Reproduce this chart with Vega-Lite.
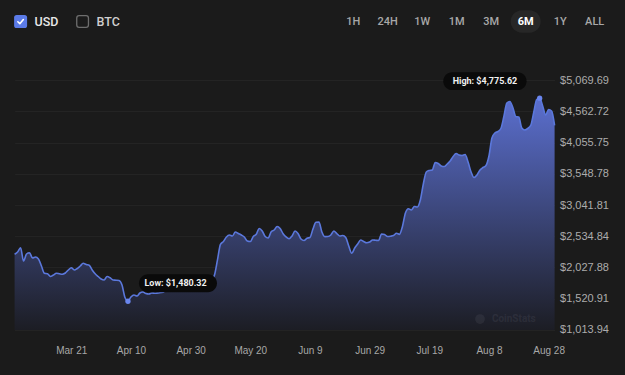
{
  "$schema": "https://vega.github.io/schema/vega-lite/v6.json",
  "usermeta": {"embedOptions": {"actions": false}},
  "background": "#1b1b1b",
  "padding": {"left": 10.6, "top": 0, "right": 1, "bottom": 0},
  "config": {"view": {"stroke": null}, "font": "Liberation Sans"},
  "bounds": "flush",
  "spacing": 80,
  "vconcat": [
    {
      "bounds": "flush",
      "spacing": 276.6,
      "hconcat": [
        {
          "width": 62,
          "height": 43,
          "data": {"values": [{"item": "USD", "checked": true}, {"item": "BTC", "checked": false}]},
          "encoding": {"x": {"field": "item", "type": "nominal", "sort": null, "scale": {"type": "point", "padding": 0, "domain": ["USD", "BTC"]}, "axis": null}},
          "layer": [
            {"transform": [{"filter": "datum.checked"}], "mark": {"type": "point", "shape": "M -1 -0.6 Q -1 -1 -0.6 -1 L 0.6 -1 Q 1 -1 1 -0.6 L 1 0.6 Q 1 1 0.6 1 L -0.6 1 Q -1 1 -1 0.6 Z", "size": 169, "filled": true, "fill": "#5b7be8", "strokeWidth": 0, "opacity": 1, "xOffset": 6}},
            {"transform": [{"filter": "!datum.checked"}], "mark": {"type": "point", "shape": "M -1 -0.6 Q -1 -1 -0.6 -1 L 0.6 -1 Q 1 -1 1 -0.6 L 1 0.6 Q 1 1 0.6 1 L -0.6 1 Q -1 1 -1 0.6 Z", "size": 137, "filled": false, "stroke": "#6e6e6e", "strokeWidth": 1.3, "opacity": 1, "xOffset": 6}},
            {"transform": [{"filter": "datum.checked"}], "mark": {"type": "point", "shape": "M -0.55 0.05 L -0.15 0.45 L 0.55 -0.4", "size": 100, "filled": false, "stroke": "#ffffff", "strokeWidth": 1.6, "strokeCap": "round", "strokeJoin": "round", "opacity": 1, "xOffset": 6}},
            {"mark": {"type": "text", "align": "left", "baseline": "middle", "dx": 20, "font": "Roboto", "fontSize": 12.5, "fontWeight": 500}, "encoding": {"text": {"field": "item"}, "color": {"condition": {"test": "datum.checked", "value": "#e8e8e8"}, "value": "#cfcfcf"}}}
          ]
        },
        {
          "width": 241.5,
          "height": 43,
          "data": {"values": [{"item": "1H"}, {"item": "24H"}, {"item": "1W"}, {"item": "1M"}, {"item": "3M"}, {"item": "6M"}, {"item": "1Y"}, {"item": "ALL"}]},
          "encoding": {"x": {"field": "item", "type": "nominal", "sort": null, "scale": {"type": "point", "padding": 0, "domain": ["1H", "24H", "1W", "1M", "3M", "6M", "1Y", "ALL"]}, "axis": null}},
          "layer": [
            {"transform": [{"filter": "datum.item === '6M'"}], "mark": {"type": "point", "shape": "M -0.253 -0.747 L 0.253 -0.747 A 0.747 0.747 0 0 1 0.253 0.747 L -0.253 0.747 A 0.747 0.747 0 0 1 -0.253 -0.747 Z", "size": 900, "filled": true, "fill": "#272727", "strokeWidth": 0, "opacity": 1}},
            {"transform": [{"filter": "datum.item !== '6M'"}], "mark": {"type": "text", "baseline": "middle", "font": "Roboto", "fontSize": 11, "fontWeight": 500, "color": "#a8a8a8"}, "encoding": {"text": {"field": "item"}}},
            {"transform": [{"filter": "datum.item === '6M'"}], "mark": {"type": "text", "baseline": "middle", "font": "Roboto", "fontSize": 11, "fontWeight": 700, "color": "#ffffff"}, "encoding": {"text": {"field": "item"}}}
          ]
        }
      ]
    },
    {
      "width": 540,
      "height": 250,
      "data": {"values": [
        {"date": "2025/03/02", "price": 2242}, {"date": "2025/03/03", "price": 2279}, {"date": "2025/03/04", "price": 2349}, {"date": "2025/03/05", "price": 2133},
        {"date": "2025/03/06", "price": 2247}, {"date": "2025/03/07", "price": 2268}, {"date": "2025/03/08", "price": 2182}, {"date": "2025/03/09", "price": 2198},
        {"date": "2025/03/10", "price": 2166}, {"date": "2025/03/11", "price": 2052}, {"date": "2025/03/12", "price": 1934}, {"date": "2025/03/13", "price": 1927},
        {"date": "2025/03/14", "price": 1882}, {"date": "2025/03/15", "price": 1906}, {"date": "2025/03/16", "price": 1934}, {"date": "2025/03/17", "price": 1926},
        {"date": "2025/03/18", "price": 1918}, {"date": "2025/03/19", "price": 1939}, {"date": "2025/03/20", "price": 1987}, {"date": "2025/03/21", "price": 2025},
        {"date": "2025/03/22", "price": 1987}, {"date": "2025/03/23", "price": 2012}, {"date": "2025/03/24", "price": 2052}, {"date": "2025/03/25", "price": 2096},
        {"date": "2025/03/26", "price": 2077}, {"date": "2025/03/27", "price": 2065}, {"date": "2025/03/28", "price": 1987}, {"date": "2025/03/29", "price": 1926},
        {"date": "2025/03/30", "price": 1882}, {"date": "2025/03/31", "price": 1841}, {"date": "2025/04/01", "price": 1825}, {"date": "2025/04/02", "price": 1882},
        {"date": "2025/04/03", "price": 1862}, {"date": "2025/04/04", "price": 1825}, {"date": "2025/04/05", "price": 1822}, {"date": "2025/04/06", "price": 1817},
        {"date": "2025/04/07", "price": 1744}, {"date": "2025/04/08", "price": 1541}, {"date": "2025/04/09", "price": 1480.32}, {"date": "2025/04/10", "price": 1549},
        {"date": "2025/04/11", "price": 1582}, {"date": "2025/04/12", "price": 1566}, {"date": "2025/04/13", "price": 1614}, {"date": "2025/04/14", "price": 1630},
        {"date": "2025/04/15", "price": 1606}, {"date": "2025/04/16", "price": 1598}, {"date": "2025/04/17", "price": 1614}, {"date": "2025/04/18", "price": 1609},
        {"date": "2025/04/19", "price": 1614}, {"date": "2025/04/20", "price": 1622}, {"date": "2025/04/21", "price": 1630}, {"date": "2025/04/22", "price": 1760},
        {"date": "2025/04/23", "price": 1793}, {"date": "2025/04/24", "price": 1776}, {"date": "2025/04/25", "price": 1793}, {"date": "2025/04/26", "price": 1790},
        {"date": "2025/04/27", "price": 1785}, {"date": "2025/04/28", "price": 1798}, {"date": "2025/04/29", "price": 1800}, {"date": "2025/04/30", "price": 1790},
        {"date": "2025/05/01", "price": 1833}, {"date": "2025/05/02", "price": 1841}, {"date": "2025/05/03", "price": 1825}, {"date": "2025/05/04", "price": 1809},
        {"date": "2025/05/05", "price": 1812}, {"date": "2025/05/06", "price": 1801}, {"date": "2025/05/07", "price": 1817}, {"date": "2025/05/08", "price": 1906},
        {"date": "2025/05/09", "price": 2150}, {"date": "2025/05/10", "price": 2404}, {"date": "2025/05/11", "price": 2450}, {"date": "2025/05/12", "price": 2523},
        {"date": "2025/05/13", "price": 2555}, {"date": "2025/05/14", "price": 2539}, {"date": "2025/05/15", "price": 2604}, {"date": "2025/05/16", "price": 2579},
        {"date": "2025/05/17", "price": 2555}, {"date": "2025/05/18", "price": 2523}, {"date": "2025/05/19", "price": 2458}, {"date": "2025/05/20", "price": 2450},
        {"date": "2025/05/21", "price": 2531}, {"date": "2025/05/22", "price": 2566}, {"date": "2025/05/23", "price": 2661}, {"date": "2025/05/24", "price": 2620},
        {"date": "2025/05/25", "price": 2531}, {"date": "2025/05/26", "price": 2506}, {"date": "2025/05/27", "price": 2609}, {"date": "2025/05/28", "price": 2636},
        {"date": "2025/05/29", "price": 2693}, {"date": "2025/05/30", "price": 2661}, {"date": "2025/05/31", "price": 2576}, {"date": "2025/06/01", "price": 2523},
        {"date": "2025/06/02", "price": 2495}, {"date": "2025/06/03", "price": 2539}, {"date": "2025/06/04", "price": 2620}, {"date": "2025/06/05", "price": 2579},
        {"date": "2025/06/06", "price": 2490}, {"date": "2025/06/07", "price": 2466}, {"date": "2025/06/08", "price": 2502}, {"date": "2025/06/09", "price": 2515},
        {"date": "2025/06/10", "price": 2652}, {"date": "2025/06/11", "price": 2761}, {"date": "2025/06/12", "price": 2766}, {"date": "2025/06/13", "price": 2604},
        {"date": "2025/06/14", "price": 2528}, {"date": "2025/06/15", "price": 2530}, {"date": "2025/06/16", "price": 2555}, {"date": "2025/06/17", "price": 2620},
        {"date": "2025/06/18", "price": 2579}, {"date": "2025/06/19", "price": 2539}, {"date": "2025/06/20", "price": 2547}, {"date": "2025/06/21", "price": 2515},
        {"date": "2025/06/22", "price": 2377}, {"date": "2025/06/23", "price": 2258}, {"date": "2025/06/24", "price": 2344}, {"date": "2025/06/25", "price": 2409},
        {"date": "2025/06/26", "price": 2474}, {"date": "2025/06/27", "price": 2450}, {"date": "2025/06/28", "price": 2430}, {"date": "2025/06/29", "price": 2442},
        {"date": "2025/06/30", "price": 2474}, {"date": "2025/07/01", "price": 2470}, {"date": "2025/07/02", "price": 2466}, {"date": "2025/07/03", "price": 2571},
        {"date": "2025/07/04", "price": 2563}, {"date": "2025/07/05", "price": 2531}, {"date": "2025/07/06", "price": 2536}, {"date": "2025/07/07", "price": 2547},
        {"date": "2025/07/08", "price": 2583}, {"date": "2025/07/09", "price": 2566}, {"date": "2025/07/10", "price": 2693}, {"date": "2025/07/11", "price": 2912},
        {"date": "2025/07/12", "price": 2980}, {"date": "2025/07/13", "price": 2961}, {"date": "2025/07/14", "price": 3017}, {"date": "2025/07/15", "price": 3010},
        {"date": "2025/07/16", "price": 3123}, {"date": "2025/07/17", "price": 3383}, {"date": "2025/07/18", "price": 3577}, {"date": "2025/07/19", "price": 3602},
        {"date": "2025/07/20", "price": 3610}, {"date": "2025/07/21", "price": 3731}, {"date": "2025/07/22", "price": 3715}, {"date": "2025/07/23", "price": 3675},
        {"date": "2025/07/24", "price": 3666}, {"date": "2025/07/25", "price": 3707}, {"date": "2025/07/26", "price": 3756}, {"date": "2025/07/27", "price": 3829},
        {"date": "2025/07/28", "price": 3877}, {"date": "2025/07/29", "price": 3853}, {"date": "2025/07/30", "price": 3845}, {"date": "2025/07/31", "price": 3861},
        {"date": "2025/08/01", "price": 3739}, {"date": "2025/08/02", "price": 3577}, {"date": "2025/08/03", "price": 3488}, {"date": "2025/08/04", "price": 3529},
        {"date": "2025/08/05", "price": 3610}, {"date": "2025/08/06", "price": 3650}, {"date": "2025/08/07", "price": 3683}, {"date": "2025/08/08", "price": 3837},
        {"date": "2025/08/09", "price": 4129}, {"date": "2025/08/10", "price": 4210}, {"date": "2025/08/11", "price": 4234}, {"date": "2025/08/12", "price": 4283},
        {"date": "2025/08/13", "price": 4478}, {"date": "2025/08/14", "price": 4697}, {"date": "2025/08/15", "price": 4721}, {"date": "2025/08/16", "price": 4624},
        {"date": "2025/08/17", "price": 4478}, {"date": "2025/08/18", "price": 4469}, {"date": "2025/08/19", "price": 4291}, {"date": "2025/08/20", "price": 4259},
        {"date": "2025/08/21", "price": 4283}, {"date": "2025/08/22", "price": 4332}, {"date": "2025/08/23", "price": 4542}, {"date": "2025/08/24", "price": 4753},
        {"date": "2025/08/25", "price": 4775.62}, {"date": "2025/08/26", "price": 4648}, {"date": "2025/08/27", "price": 4502}, {"date": "2025/08/28", "price": 4591},
        {"date": "2025/08/29", "price": 4567}, {"date": "2025/08/30", "price": 4332}
      ]},
      "layer": [
        {
          "mark": {"type": "area", "interpolate": "monotone", "opacity": 1, "fill": {"gradient": "linear", "x1": 0, "y1": 0, "x2": 0, "y2": 1, "stops": [{"offset": 0, "color": "#5b6fcf"}, {"offset": 1, "color": "#1c1d24"}]}},
          "encoding": {
            "x": {"field": "date", "type": "temporal",
              "scale": {"domain": [{"year": 2025, "month": 3, "date": 2}, {"year": 2025, "month": 8, "date": 30}]},
              "axis": {"values": [{"year": 2025, "month": 3, "date": 21}, {"year": 2025, "month": 4, "date": 10}, {"year": 2025, "month": 4, "date": 30}, {"year": 2025, "month": 5, "date": 20}, {"year": 2025, "month": 6, "date": 9}, {"year": 2025, "month": 6, "date": 29}, {"year": 2025, "month": 7, "date": 19}, {"year": 2025, "month": 8, "date": 8}, {"year": 2025, "month": 8, "date": 28}],
                "tickCount": 20, "format": "%b %-d", "labelColor": "#a8a8a8", "labelFontSize": 10, "labelPadding": 16, "ticks": false, "domain": false, "grid": false, "title": null, "labelOverlap": false, "labelFlush": false, "minExtent": 45}},
            "y": {"field": "price", "type": "quantitative",
              "scale": {"domain": [1013.94, 5069.69], "zero": false, "nice": false},
              "axis": {"orient": "right", "values": [1013.94, 1520.91, 2027.88, 2534.84, 3041.81, 3548.78, 4055.75, 4562.72, 5069.69],
                "tickCount": 20, "format": "$,.2f", "labelColor": "#acacac", "labelFontSize": 11, "labelPadding": 5, "ticks": false, "domain": false, "grid": true, "gridColor": "#242424", "gridWidth": 1, "title": null, "labelOverlap": false, "labelFlush": false, "minExtent": 70}},
            "y2": {"datum": 1013.94}
          }
        },
        {
          "mark": {"type": "line", "interpolate": "monotone", "color": "#5b78dc", "strokeWidth": 1.6},
          "encoding": {"x": {"field": "date", "type": "temporal"}, "y": {"field": "price", "type": "quantitative"}}
        },
        {
          "data": {"values": [{"wm": "CoinStats"}]},
          "mark": {"type": "circle", "size": 95, "color": "#9a9aa8", "opacity": 0.1},
          "encoding": {"x": {"datum": {"year": 2025, "month": 8, "date": 5}}, "y": {"datum": 1192}}
        },
        {
          "data": {"values": [{"wm": "CoinStats"}]},
          "mark": {"type": "text", "align": "left", "baseline": "middle", "font": "Roboto", "fontSize": 10, "fontWeight": "bold", "color": "#9a9aa8", "opacity": 0.1},
          "encoding": {"x": {"datum": {"year": 2025, "month": 8, "date": 9}}, "y": {"datum": 1192}, "text": {"field": "wm"}}
        },
        {
          "transform": [
            {"joinaggregate": [{"op": "min", "field": "price", "as": "lo"}, {"op": "max", "field": "price", "as": "hi"}]},
            {"filter": "datum.price === datum.lo || datum.price === datum.hi"}
          ],
          "mark": {"type": "circle", "size": 28, "color": "#6a86ee", "opacity": 1},
          "encoding": {"x": {"field": "date", "type": "temporal"}, "y": {"field": "price", "type": "quantitative"}}
        },
        {
          "transform": [
            {"joinaggregate": [{"op": "min", "field": "price", "as": "lo"}]},
            {"filter": "datum.price === datum.lo"},
            {"calculate": "'Low: $' + format(datum.price, ',.2f')", "as": "label"}
          ],
          "encoding": {"x": {"field": "date", "type": "temporal"}, "y": {"field": "price", "type": "quantitative"}},
          "layer": [
            {"mark": {"type": "rect", "xOffset": 11, "x2Offset": 89, "yOffset": -27, "y2Offset": -9, "cornerRadius": 9, "color": "#0a0a0a", "opacity": 1},
             "encoding": {"x2": {"field": "date"}, "y2": {"field": "price"}}},
            {"mark": {"type": "text", "dx": 47.6, "dy": -18, "align": "center", "baseline": "middle", "font": "Roboto", "fontSize": 9, "fontWeight": "bold", "color": "#f0f0f0"},
             "encoding": {"text": {"field": "label"}}}
          ]
        },
        {
          "transform": [
            {"joinaggregate": [{"op": "max", "field": "price", "as": "hi"}]},
            {"filter": "datum.price === datum.hi"},
            {"calculate": "'High: $' + format(datum.price, ',.2f')", "as": "label"}
          ],
          "encoding": {"x": {"field": "date", "type": "temporal"}, "y": {"field": "price", "type": "quantitative"}},
          "layer": [
            {"mark": {"type": "rect", "xOffset": -96.4, "x2Offset": -13.1, "yOffset": -25.8, "y2Offset": -8.1, "cornerRadius": 9, "color": "#0a0a0a", "opacity": 1},
             "encoding": {"x2": {"field": "date"}, "y2": {"field": "price"}}},
            {"mark": {"type": "text", "dx": -54.7, "dy": -17, "align": "center", "baseline": "middle", "font": "Roboto", "fontSize": 9, "fontWeight": "bold", "color": "#f0f0f0"},
             "encoding": {"text": {"field": "label"}}}
          ]
        }
      ]
    }
  ]
}
